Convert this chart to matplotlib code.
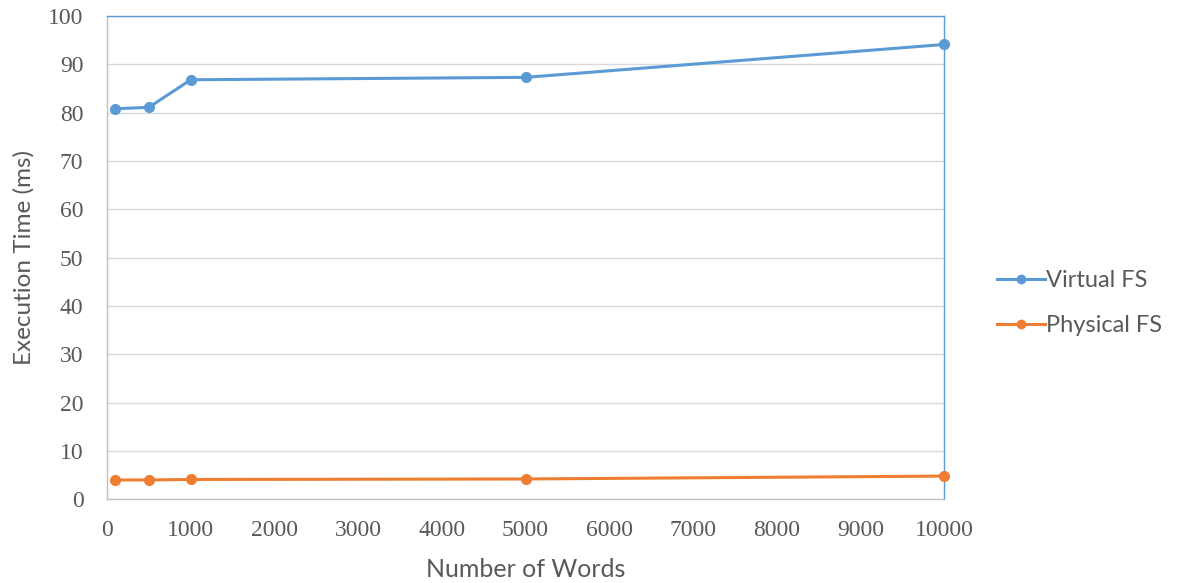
import matplotlib.pyplot as plt
from matplotlib.lines import Line2D

# Execution time per word count
words = [100, 500, 1000, 5000, 10000]
virtual_fs = [80.8, 81.1, 86.8, 87.3, 94.1]
physical_fs = [4.0, 4.0, 4.1, 4.2, 4.8]

blue = '#5B9BD5'
orange = '#ED7D31'
sans = ['Lato', 'DejaVu Sans']
serif = ['Liberation Serif', 'DejaVu Serif']

fig = plt.figure(figsize=(11.79, 5.83), dpi=100)
ax = fig.add_axes([0.0908, 0.1436, 0.7099, 0.829])

ax.plot(words, virtual_fs, color=blue, lw=2.2, marker='o', ms=7, clip_on=False, zorder=3)
ax.plot(words, physical_fs, color=orange, lw=2.2, marker='o', ms=7, clip_on=False, zorder=3)

ax.set_xlim(0, 10000)
ax.set_ylim(0, 100)
ax.set_xticks(range(0, 10001, 1000))
ax.set_yticks(range(0, 101, 10))
ax.grid(axis='y', color='#d9d9d9', lw=1.0)
ax.set_axisbelow(True)

for s in ('left', 'bottom'):
    ax.spines[s].set_color('#bfbfbf')
for s in ('top', 'right'):
    ax.spines[s].set_color(blue)
for s in ax.spines.values():
    s.set_linewidth(1.0)

ax.tick_params(length=0, labelsize=17, labelcolor='#595959')
ax.tick_params(axis='x', pad=15)
ax.tick_params(axis='y', pad=17)
for lab in ax.get_xticklabels() + ax.get_yticklabels():
    lab.set_family(serif)

ax.set_xlabel('Number of Words', family=sans, fontsize=18, color='#595959', labelpad=12)
ax.set_ylabel('Execution Time (ms)', family=sans, fontsize=17.5, color='#595959', labelpad=10)

handles = [Line2D([], [], color=blue, lw=2.2, marker='o', ms=6),
           Line2D([], [], color=orange, lw=2.2, marker='o', ms=6)]
leg = fig.legend(handles, ['Virtual FS', 'Physical FS'], loc='center left',
                 bbox_to_anchor=(0.834, 0.48), frameon=False, handlelength=2.0,
                 handletextpad=0.05, labelspacing=1.0, borderaxespad=0.2,
                 prop={'family': sans, 'size': 17})
for t in leg.get_texts():
    t.set_color('#595959')

fig.savefig('out.png', dpi=100)
